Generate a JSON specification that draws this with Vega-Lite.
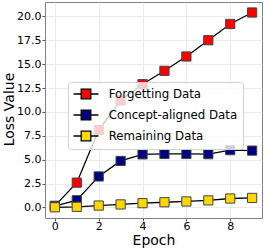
{
  "$schema": "https://vega.github.io/schema/vega-lite/v6.json",
  "autosize": "none",
  "width": 217,
  "height": 216,
  "padding": {"left": 45, "top": 2, "right": 3, "bottom": 32},
  "background": "white",
  "config": {
    "font": "DejaVu Sans",
    "view": {"stroke": "#808080", "strokeWidth": 1},
    "axis": {
      "labelFont": "DejaVu Sans",
      "titleFont": "DejaVu Sans",
      "labelFontSize": 11,
      "titleFontSize": 14,
      "titleFontWeight": "normal",
      "labelColor": "black",
      "titleColor": "black",
      "tickColor": "#555",
      "tickSize": 3,
      "labelPadding": 1,
      "domain": false,
      "gridColor": "#e6e6e6",
      "gridWidth": 0.8
    }
  },
  "data": {
    "values": [
      {"epoch": 0, "loss": 0.17, "series": "Forgetting Data"},
      {"epoch": 1, "loss": 2.6, "series": "Forgetting Data"},
      {"epoch": 2, "loss": 8.1, "series": "Forgetting Data"},
      {"epoch": 3, "loss": 11.2, "series": "Forgetting Data"},
      {"epoch": 4, "loss": 12.9, "series": "Forgetting Data"},
      {"epoch": 5, "loss": 14.3, "series": "Forgetting Data"},
      {"epoch": 6, "loss": 15.8, "series": "Forgetting Data"},
      {"epoch": 7, "loss": 17.5, "series": "Forgetting Data"},
      {"epoch": 8, "loss": 19.2, "series": "Forgetting Data"},
      {"epoch": 9, "loss": 20.4, "series": "Forgetting Data"},
      {"epoch": 0, "loss": 0.15, "series": "Concept-aligned Data"},
      {"epoch": 1, "loss": 0.76, "series": "Concept-aligned Data"},
      {"epoch": 2, "loss": 3.25, "series": "Concept-aligned Data"},
      {"epoch": 3, "loss": 4.87, "series": "Concept-aligned Data"},
      {"epoch": 4, "loss": 5.56, "series": "Concept-aligned Data"},
      {"epoch": 5, "loss": 5.6, "series": "Concept-aligned Data"},
      {"epoch": 6, "loss": 5.6, "series": "Concept-aligned Data"},
      {"epoch": 7, "loss": 5.58, "series": "Concept-aligned Data"},
      {"epoch": 8, "loss": 6.0, "series": "Concept-aligned Data"},
      {"epoch": 9, "loss": 5.95, "series": "Concept-aligned Data"},
      {"epoch": 0, "loss": 0.02, "series": "Remaining Data"},
      {"epoch": 1, "loss": 0.07, "series": "Remaining Data"},
      {"epoch": 2, "loss": 0.2, "series": "Remaining Data"},
      {"epoch": 3, "loss": 0.32, "series": "Remaining Data"},
      {"epoch": 4, "loss": 0.45, "series": "Remaining Data"},
      {"epoch": 5, "loss": 0.55, "series": "Remaining Data"},
      {"epoch": 6, "loss": 0.63, "series": "Remaining Data"},
      {"epoch": 7, "loss": 0.74, "series": "Remaining Data"},
      {"epoch": 8, "loss": 0.94, "series": "Remaining Data"},
      {"epoch": 9, "loss": 1.0, "series": "Remaining Data"}
    ]
  },
  "encoding": {
    "x": {
      "field": "epoch", "type": "quantitative",
      "scale": {"domain": [-0.45, 9.45], "nice": false, "zero": false},
      "axis": {"title": "Epoch", "values": [0, 2, 4, 6, 8], "format": "d", "labelPadding": -1, "titleY": 26.5, "titleBaseline": "alphabetic"}
    },
    "y": {
      "field": "loss", "type": "quantitative",
      "scale": {"domain": [-1.1, 21.5], "nice": false, "zero": false},
      "axis": {"title": "Loss Value", "values": [0, 2.5, 5, 7.5, 10, 12.5, 15, 17.5, 20], "format": ".1f", "titleX": -32, "titleY": 107, "titleBaseline": "alphabetic", "titleAlign": "center", "titleAngle": -90}
    }
  },
  "layer": [
    {
      "mark": {"type": "line", "color": "black", "strokeWidth": 1.3},
      "encoding": {"detail": {"field": "series"}}
    },
    {
      "mark": {"type": "point", "shape": "square", "size": 85, "filled": true, "opacity": 1, "stroke": "#444", "strokeWidth": 1},
      "encoding": {
        "fill": {
          "field": "series", "type": "nominal",
          "scale": {"domain": ["Forgetting Data", "Concept-aligned Data", "Remaining Data"], "range": ["#ff0000", "#000080", "#ffd700"]},
          "legend": {
            "title": null,
            "orient": "none",
            "legendX": 23,
            "legendY": 80,
            "padding": 5,
            "fillColor": "rgba(255,255,255,0.8)",
            "strokeColor": "#d0d0d0",
            "cornerRadius": 3,
            "labelFont": "DejaVu Sans",
            "labelFontSize": 11.8,
            "labelColor": "black",
            "symbolOffset": 6,
            "labelOffset": 15.7,
            "rowPadding": 5,
            "symbolType": "M-2.08,0H-0.8M0.8,0H2.08M-0.8,-0.8H0.8V0.8H-0.8Z",
            "symbolSize": 144,
            "symbolStrokeColor": "black",
            "symbolStrokeWidth": 1.3,
            "symbolOpacity": 1
          }
        }
      }
    }
  ]
}
